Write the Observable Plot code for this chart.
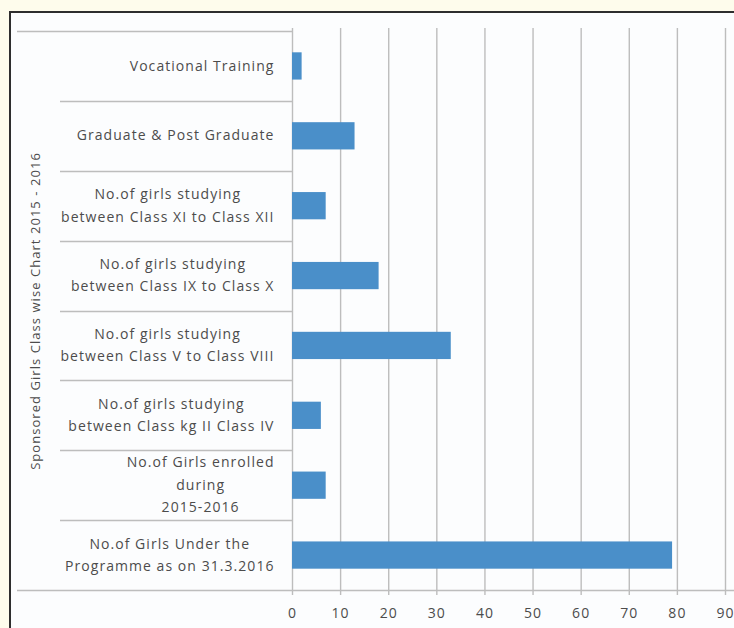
<!DOCTYPE html>
<html>
<head>
<meta charset="utf-8">
<script src="https://cdn.jsdelivr.net/npm/d3@7"></script>
<script src="https://cdn.jsdelivr.net/npm/@observablehq/plot@0.6"></script>
<style>
  html, body { margin: 0; padding: 0; width: 734px; height: 628px; overflow: hidden; background: #fefcec; }
  #frame { position: absolute; left: 9px; top: 11px; width: 740px; height: 640px;
           border-top: 2px solid #2e2e2e; border-left: 2px solid #2e2e2e; background: #fcfdfe; }
  #chart { position: absolute; left: 0; top: 0; }
</style>
</head>
<body>
<div id="frame"></div>
<div id="chart"></div>
<script>
// ---- data ----
const categories = [
  "Vocational Training",
  "Graduate & Post Graduate",
  "No.of girls studying\nbetween Class XI to Class XII",
  "No.of girls studying\nbetween Class IX to Class X",
  "No.of girls studying\nbetween Class V to Class VIII",
  "No.of girls studying\nbetween Class kg II Class IV",
  "No.of Girls enrolled\nduring\n2015-2016",
  "No.of Girls Under the\nProgramme as on 31.3.2016"
];
const values = [2, 13, 7, 18, 33, 6, 7, 79];
const xTicks = [0, 10, 20, 30, 40, 50, 60, 70, 80, 90];
const title = "Sponsored Girls Class wise Chart 2015 - 2016";

// ---- style ----
const W = 734, H = 628;
const FONT = "Open Sans";
const FS = 14, LS = 1.05;
const TEXT = "#4c4c4c";
const GRID = "#bdbdbd";
const BLUE = "#4a8fc9";

const rows = categories.map((c, i) => ({category: c, value: values[i]}));

// measure label blocks so each wrapped block is right-aligned with centered lines
const ctx = document.createElement("canvas").getContext("2d");
ctx.font = `${FS}px "${FONT}"`;
const blockWidth = (s) => d3.max(s.split("\n"), l => ctx.measureText(l).width + LS * l.length);

const separators = (index, scales, values, dims) => {
  const y = scales.y;
  const half = (y.step() - y.bandwidth()) / 2;
  const g = d3.create("svg:g").attr("stroke", GRID).attr("stroke-width", 1.4).attr("fill", "none");
  categories.forEach((c, i) => {
    const yy = Math.round(y(c) - half) + 0.5;
    g.append("line")
      .attr("x1", i === 0 ? 17 : dims.marginLeft - 232)
      .attr("x2", dims.marginLeft)
      .attr("y1", yy).attr("y2", yy);
  });
  const last = categories[categories.length - 1];
  const yb = Math.round(y(last) + y.bandwidth() + half) + 0.5;
  g.append("line").attr("x1", 17).attr("x2", dims.width).attr("y1", yb).attr("y2", yb);
  return g.node();
};

const plot = Plot.plot({
  width: W,
  height: H,
  marginLeft: 292,
  marginRight: 9,
  marginTop: 31,
  marginBottom: 38,
  style: {background: "transparent", fontFamily: FONT, fontSize: FS + "px", letterSpacing: LS + "px", color: TEXT},
  x: {domain: [0, 90], axis: null},
  y: {domain: categories, paddingInner: 0.61, paddingOuter: 0.305, round: false, axis: null},
  marks: [
    Plot.ruleX(xTicks, {x: d => d, stroke: GRID, strokeWidth: 1.4, insetBottom: -5, insetTop: -3}),
    separators,
    Plot.barX(rows, {x: "value", y: "category", fill: BLUE}),
    Plot.text(xTicks, {x: d => d, text: d => String(d), frameAnchor: "bottom", dy: 27, fill: TEXT, fontSize: FS}),
    ...categories.map(c => Plot.text([c], {
      y: d => d, text: d => d, frameAnchor: "left", textAnchor: "middle",
      dx: -18 - blockWidth(c) / 2, dy: -3, lineHeight: 1.6, fill: TEXT, fontSize: FS
    })),
    Plot.text([title], {text: d => d, frameAnchor: "left", textAnchor: "middle", rotate: -90, dx: -257, fill: TEXT, fontSize: 13})
  ]
});
document.getElementById("chart").appendChild(plot);
</script>
</body>
</html>
